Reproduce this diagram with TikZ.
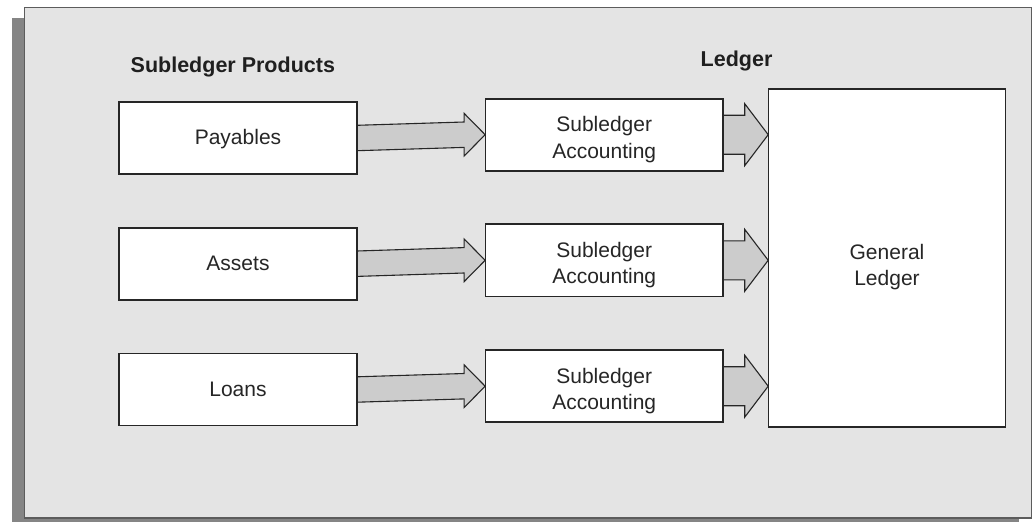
\documentclass[tikz,border=0pt]{standalone}
\usepackage{fontspec}
\setmainfont{Liberation Sans}
\usetikzlibrary{calc}
\definecolor{panel}{HTML}{E4E4E4}
\definecolor{shadowc}{HTML}{858585}
\definecolor{panelline}{HTML}{5C5C5C}
\definecolor{arrowfill}{HTML}{CCCCCC}
\definecolor{edge}{HTML}{262626}
\definecolor{textc}{HTML}{262626}
\newcommand\fatarr[5]{%
  \draw[fatarrow] ($(#1)+(0,-#3)$) -- ($(#2)+(-#5,-#3)$) -- ($(#2)+(-#5,-#4)$) -- (#2)
    -- ($(#2)+(-#5,#4)$) -- ($(#2)+(-#5,#3)$) -- ($(#1)+(0,#3)$) -- cycle;}
\begin{document}
\begin{tikzpicture}[x=1pt,y=-1pt,
  box/.style={draw=edge, fill=white, line width=1.1pt, minimum width=237pt,
    minimum height=71.5pt, inner sep=0pt, anchor=center},
  txt/.style={font=\fontsize{21}{26.5}\selectfont, text=textc, inner sep=0pt, align=center},
  txtone/.style={txt, text height=15.2pt, text depth=4.4pt},
  head/.style={font=\fontsize{21.5}{26}\selectfont\bfseries, text=black!88, inner sep=0pt, anchor=base west},
  fatarrow/.style={draw=edge, fill=arrowfill, line width=1.1pt, line join=miter}]
\useasboundingbox (0,0) rectangle (1034,522);
% shadow and panel
\fill[shadowc] (11.5,18) rectangle (1018.5,522);
\draw[panelline, line width=1.8pt, fill=panel] (24.5,7.5) rectangle (1031.5,518);
% headings
\node[head] (h1) at (130.5,72.3) {Subledger Products};
\node[head] (h2) at (700.5,66.7) {Ledger};
% boxes
\node[box] (p) at (238,138) {};
\node[box] (a) at (238,263.7) {};
\node[box] (l) at (238,389.5) {};
\node[box] (s1) at (604.2,134.7) {};
\node[box] (s2) at (604.2,260.3) {};
\node[box] (s3) at (604.2,386.2) {};
\node[box, minimum width=236.5pt, minimum height=337.3pt] (gl) at (887,258.2) {};
\coordinate (g1) at (s1.east -| gl.west);
\coordinate (g2) at (s2.east -| gl.west);
\coordinate (g3) at (s3.east -| gl.west);
% arrows
\fatarr{p.east}{s1.west}{12.7}{21.3}{21}
\fatarr{a.east}{s2.west}{12.7}{21.3}{21}
\fatarr{l.east}{s3.west}{12.7}{21.3}{21}
\fatarr{s1.east}{g1}{19.5}{31}{23.5}
\fatarr{s2.east}{g2}{19.5}{31}{23.5}
\fatarr{s3.east}{g3}{19.5}{31}{23.5}
% redraw box borders on top
\foreach \n in {p,a,l,s1,s2,s3,gl}{\draw[edge, line width=1.1pt] (\n.north west) rectangle (\n.south east);}
% texts
\node[txtone] (tp) at ([yshift=-1.5pt]p.center) {Payables};
\node[txtone] (ta) at ([yshift=-1.5pt]a.center) {Assets};
\node[txtone] (tl) at ([yshift=-1.5pt]l.center) {Loans};
\node[txt] (ts1) at ([yshift=-5pt]s1.center) {Subledger\\Accounting};
\node[txt] (ts2) at ([yshift=-5pt]s2.center) {Subledger\\Accounting};
\node[txt] (ts3) at ([yshift=-5pt]s3.center) {Subledger\\Accounting};
\node[txt] (tg) at ([yshift=-9pt]gl.center) {General\\Ledger};
\end{tikzpicture}
\end{document}
